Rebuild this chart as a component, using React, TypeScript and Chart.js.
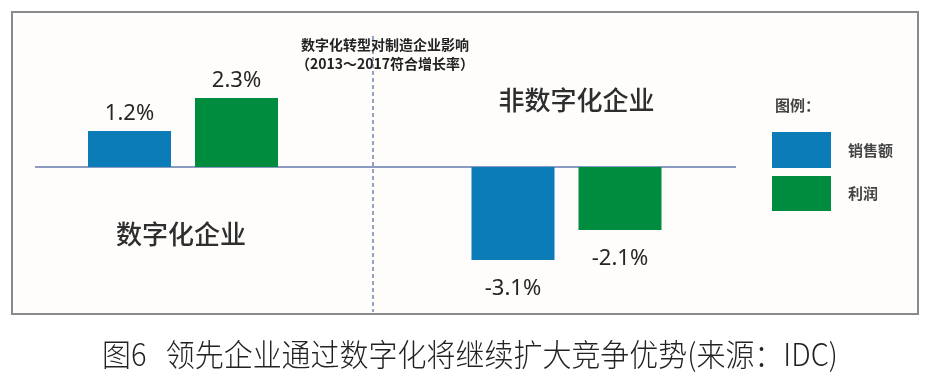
import React, { useEffect, useRef } from 'react';
import { Chart, registerables } from 'chart.js';

Chart.register(...registerables);

const categories = ['数字化企业', '非数字化企业'];
const seriesNames = ['销售额', '利润'];
const salesValues = [1.2, -3.1];
const profitValues = [2.3, -2.1];
const seriesColors = ['#0B7CB7', '#008C3E'];
const titleLines = ['数字化转型对制造企业影响', '（2013～2017符合增长率）'];
const legendTitle = '图例：';
const caption = '图6   领先企业通过数字化将继续扩大竞争优势(来源：IDC)';

const CJK = "'Noto Sans CJK SC', 'Noto Sans', sans-serif";

const decorPlugin = {
  id: 'decor',
  beforeDraw(chart: any) {
    const ctx = chart.ctx as CanvasRenderingContext2D;
    ctx.save();
    ctx.fillStyle = '#ffffff';
    ctx.fillRect(0, 0, chart.width, chart.height);
    ctx.fillStyle = '#fefdfb';
    ctx.fillRect(12, 12, 906, 302);
    ctx.strokeStyle = '#8a8a8a';
    ctx.lineWidth = 2;
    ctx.strokeRect(12, 12, 906, 302);

    const y0 = chart.scales.y.getPixelForValue(0);
    // vertical dashed divider
    ctx.strokeStyle = '#6f86b3';
    ctx.lineWidth = 1.5;
    ctx.setLineDash([4, 3]);
    ctx.beginPath();
    ctx.moveTo(373, 36);
    ctx.lineTo(373, 312);
    ctx.stroke();
    ctx.setLineDash([]);
    // zero line
    ctx.strokeStyle = '#8a9cc2';
    ctx.lineWidth = 2;
    ctx.beginPath();
    ctx.moveTo(35, y0);
    ctx.lineTo(736, y0);
    ctx.stroke();
    ctx.restore();
  },
  afterDatasetsDraw(chart: any) {
    const ctx = chart.ctx as CanvasRenderingContext2D;
    const xs = chart.scales.x;
    const ys = chart.scales.y;
    const y0 = ys.getPixelForValue(0);
    ctx.save();
    // value labels
    ctx.font = "22px 'Noto Sans', sans-serif";
    ctx.fillStyle = '#262626';
    ctx.textAlign = 'center';
    ctx.textBaseline = 'alphabetic';
    chart.data.datasets.forEach((ds: any, di: number) => {
      const meta = chart.getDatasetMeta(di);
      meta.data.forEach((el: any, i: number) => {
        const v = ds.data[i];
        const txt = v.toFixed(1) + '%';
        if (v >= 0) ctx.fillText(txt, el.x, el.y - 11);
        else ctx.fillText(txt, el.x, el.y + 35);
      });
    });
    // category labels
    ctx.font = `500 26px ${CJK}`;
    ctx.fillStyle = '#2e2e2e';
    ctx.textBaseline = 'middle';
    categories.forEach((c, i) => {
      const v = salesValues[i] + profitValues[i];
      const x = xs.getPixelForValue(i);
      const y = v >= 0 ? y0 + 67 : y0 - 67;
      ctx.fillText(c, x + (v >= 0 ? -2 : 10), y);
    });
    // chart title
    ctx.font = `bold 14px ${CJK}`;
    ctx.fillStyle = '#222222';
    ctx.textAlign = 'left';
    ctx.fillText(titleLines[0], 301, 45);
    ctx.fillText(titleLines[1], 296, 64);
    // legend
    ctx.font = `bold 15px ${CJK}`;
    ctx.fillStyle = '#444444';
    ctx.fillText(legendTitle, 775, 105);
    const boxes = [
      [132, 36],
      [176, 35],
    ];
    seriesNames.forEach((n, i) => {
      ctx.fillStyle = seriesColors[i];
      ctx.fillRect(772, boxes[i][0], 59, boxes[i][1]);
      ctx.fillStyle = '#444444';
      ctx.fillText(n, 848, boxes[i][0] + boxes[i][1] / 2);
    });
    // caption
    ctx.font = `300 31px ${CJK}`;
    ctx.fillStyle = '#222222';
    ctx.textAlign = 'left';
    const w = ctx.measureText(caption).width;
    const target = 736;
    ctx.translate(102, 354);
    ctx.scale(target / w, 1);
    ctx.fillText(caption, 0, 0);
    ctx.restore();
  },
};

export default function App() {
  const ref = useRef<HTMLCanvasElement | null>(null);
  useEffect(() => {
    if (!ref.current) return;
    const chart = new Chart(ref.current, {
      type: 'bar',
      data: {
        labels: categories,
        datasets: [
          {
            label: seriesNames[0],
            data: salesValues,
            backgroundColor: seriesColors[0],
            borderWidth: 0,
            categoryPercentage: 0.558,
            barPercentage: 0.7757,
            clip: false,
          },
          {
            label: seriesNames[1],
            data: profitValues,
            backgroundColor: seriesColors[1],
            borderWidth: 0,
            categoryPercentage: 0.558,
            barPercentage: 0.7757,
            clip: false,
          },
        ],
      },
      options: {
        responsive: false,
        animation: false,
        devicePixelRatio: 1,
        layout: { padding: { left: 183, right: 363.5, top: 77, bottom: 93 } },
        scales: {
          x: { type: 'category', offset: false, display: false, grid: { display: false } },
          y: { min: -4, max: 3, display: false, grid: { display: false } },
        },
        plugins: {
          legend: { display: false },
          tooltip: { enabled: false },
          title: { display: false },
        },
      },
      plugins: [decorPlugin],
    } as any);
    return () => chart.destroy();
  }, []);
  return (
    <div style={{ position: 'fixed', left: 0, top: 0, width: 930, height: 380, background: '#fff' }}>
      <canvas ref={ref} width={930} height={380} style={{ width: 930, height: 380, display: 'block' }} />
    </div>
  );
}
